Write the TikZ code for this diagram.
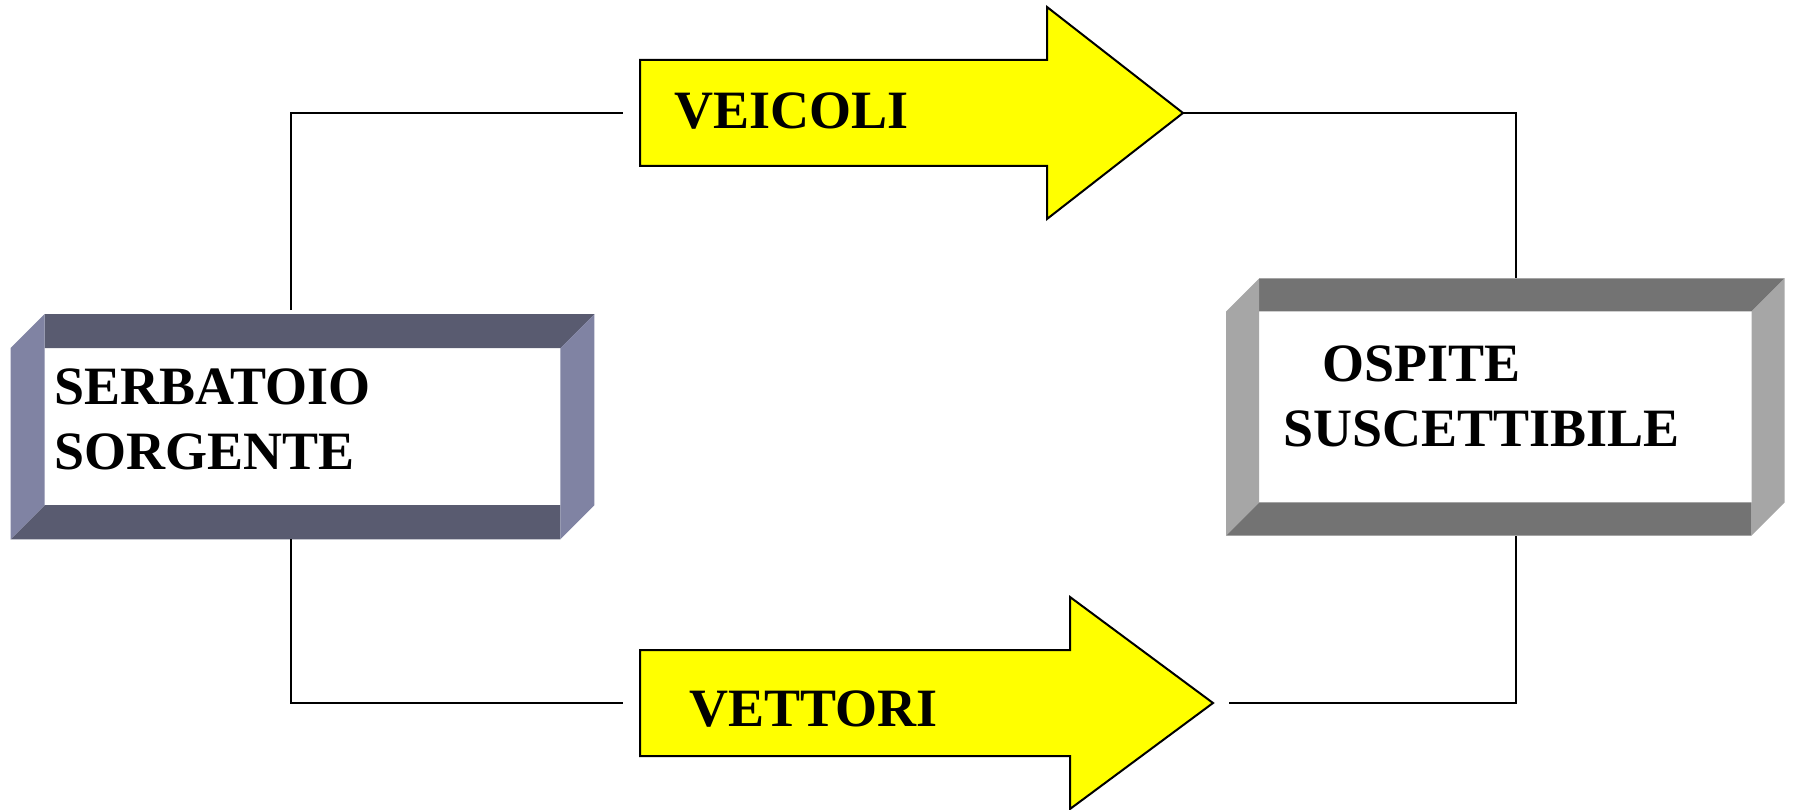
\documentclass[tikz,border=0pt]{standalone}
\usepackage{fontspec}
\setmainfont{Liberation Serif}
\usepackage{xcolor}
\usepackage{tikz}

\definecolor{serbface}{RGB}{89,91,112}
\definecolor{serbside}{RGB}{128,131,163}
\definecolor{ospface}{RGB}{115,115,115}
\definecolor{ospside}{RGB}{166,166,166}
\definecolor{arrowfill}{RGB}{255,255,0}

\begin{document}
\begin{tikzpicture}[
    x=1pt, y=1pt,
    inner/.style={draw=none, fill=white, inner sep=0pt},
    caption/.style={font=\fontsize{54}{65}\selectfont\bfseries,
                    inner sep=0pt, align=left, anchor=base west},
    shaft/.style={draw, line width=2pt, fill=arrowfill, line join=miter},
    link/.style={line width=2pt}
]
\useasboundingbox (0,0) rectangle (1795,809);

% ── Serbatoio / sorgente (left) ──
\node[inner, minimum width=515.5pt, minimum height=156.7pt] (serb) at (302.5,382.3) {};
\fill[serbface] (serb.north west) -- ++(0,34) -- ([shift={(34,34)}]serb.north east) -- (serb.north east) -- cycle;
\fill[serbface] ([shift={(-34,-34)}]serb.south west) -- (serb.south west) -- (serb.south east) -- ++(0,-34) -- cycle;
\fill[serbside] ([xshift=-34]serb.north west) -- ++(34,34) -- (serb.south west) -- ++(-34,-34) -- cycle;
\fill[serbside] (serb.north east) -- ++(34,34) -- ([xshift=34]serb.south east) -- ++(-34,-34) -- cycle;
% base = baseline of the last line
\node[caption] (serbtxt) at (54.5,339) {SERBATOIO\\SORGENTE};

% ── Ospite suscettibile (right) ──
\node[inner, minimum width=492pt, minimum height=190.6pt] (ospite) at (1505.4,402) {};
\fill[ospface] (ospite.north west) -- ++(0,33) -- ([shift={(33,33)}]ospite.north east) -- (ospite.north east) -- cycle;
\fill[ospface] ([shift={(-33,-33)}]ospite.south west) -- (ospite.south west) -- (ospite.south east) -- ++(0,-33) -- cycle;
\fill[ospside] ([xshift=-33]ospite.north west) -- ++(33,33) -- (ospite.south west) -- ++(-33,-33) -- cycle;
\fill[ospside] (ospite.north east) -- ++(33,33) -- ([xshift=33]ospite.south east) -- ++(-33,-33) -- cycle;
\node[caption] (osptxt) at (1283.4,362.3) {\hspace*{39pt}OSPITE\\SUSCETTIBILE};

% ── Veicoli (top arrow) ──
\coordinate (veictail) at (640,696);
\coordinate (veictip) at (1183,696);
\draw[shaft] (veictail) ++(0,-53) -- ++(0,106) -- ++(407,0) -- ++(0,53) -- (veictip)
    -- ++(-136,-106) -- ++(0,53) -- cycle;
\node[caption] (veictxt) at (674.5,680.7) {VEICOLI};

% ── Vettori (bottom arrow) ──
\coordinate (vetttail) at (640,106);
\coordinate (vetttip) at (1213,106);
\draw[shaft] (vetttail) ++(0,-53) -- ++(0,106) -- ++(430,0) -- ++(0,53) -- (vetttip)
    -- ++(-143,-106) -- ++(0,53) -- cycle;
\node[caption] (vetttxt) at (689.2,82.3) {VETTORI};

% ── Connectors ──
\coordinate (serbN) at ([shift={(-11.5,38)}]serb.north);
\coordinate (serbS) at ([shift={(-11.5,-34)}]serb.south);
\coordinate (ospN) at ([shift={(10.6,33)}]ospite.north);
\coordinate (ospS) at ([shift={(10.6,-33)}]ospite.south);

\draw[link, shorten >=17pt] (serbN) |- (veictail);
\draw[link] (veictip) -| (ospN);
\draw[link, shorten >=17pt] (serbS) |- (vetttail);
\draw[link, shorten <=16pt] (vetttip) -| (ospS);

\end{tikzpicture}
\end{document}
